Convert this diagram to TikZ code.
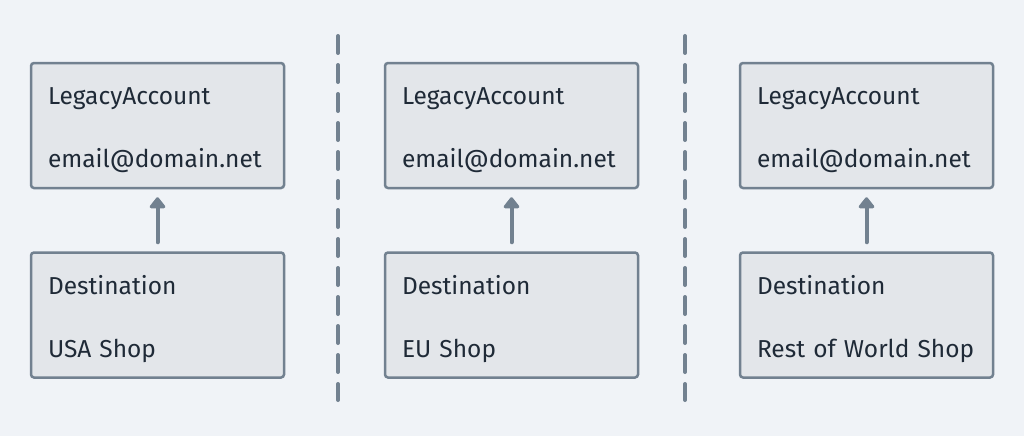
\documentclass[tikz,border=0pt]{standalone}
\usepackage{fontspec}
\setmainfont{Fira Sans}
\usetikzlibrary{arrows.meta,positioning}

\definecolor{bgcol}{HTML}{F0F3F7}
\definecolor{boxfill}{HTML}{E3E6EA}
\definecolor{edgecol}{HTML}{728190}
\definecolor{inkcol}{HTML}{1F2A37}

\tikzset{
	recbox/.style={draw=edgecol,fill=boxfill,line width=2.5pt,rounded corners=3pt,
		minimum width=253pt,minimum height=125pt,inner xsep=17pt,
		text width=219pt,align=left,text=inkcol,font=\fontsize{24.5}{63}\selectfont},
	uparrow/.style={draw=edgecol,line width=4pt,line cap=round,
		-{Triangle[width=18pt,length=12pt,round]},shorten >=8pt,shorten <=9pt},
	divider/.style={draw=edgecol,line width=4pt,line cap=round,dash pattern=on 17pt off 12pt}
}

\begin{document}
\begin{tikzpicture}[x=1pt,y=-1pt]

% BACKGROUND
\fill[bgcol] (0,0) rectangle (1024,436);
\useasboundingbox (0,0) rectangle (1024,436);

% SHOPS
\foreach \cx/\shop/\tag in {157.5/USA Shop/usa, 511.5/EU Shop/eu, 866.5/Rest of World Shop/row}{
	\node[recbox] (acc\tag) at (\cx,125.5) {\rule{0pt}{27pt}LegacyAccount\\\mbox{email@domain.net}};
	\node[recbox] (dst\tag) at (\cx,315) {\rule{0pt}{27pt}Destination\\\mbox{\shop}};
	\draw[uparrow] (dst\tag) -- (acc\tag);
}

% DIVIDERS
\draw[divider] (338,36) -- (338,400);
\draw[divider] (685,36) -- (685,400);

\end{tikzpicture}
\end{document}
